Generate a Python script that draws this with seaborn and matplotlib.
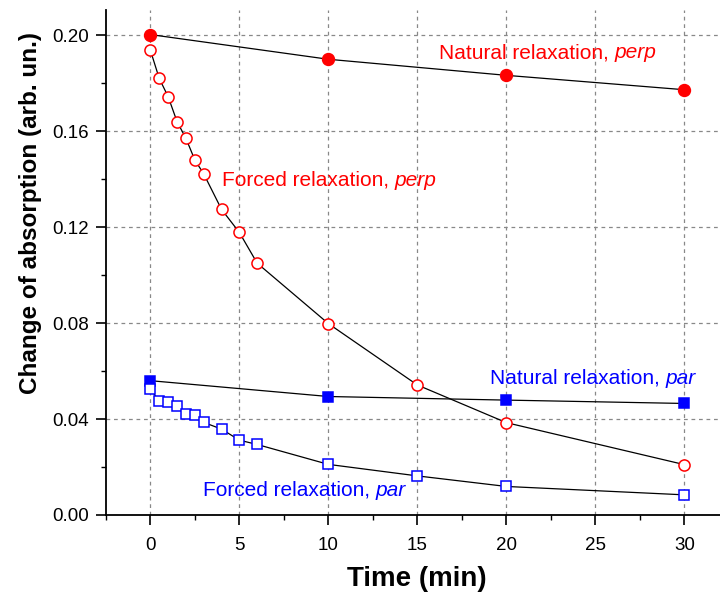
import matplotlib
matplotlib.use("Agg")
import matplotlib.pyplot as plt
import seaborn as sns
import pandas as pd
from matplotlib.ticker import MultipleLocator

sns.set_theme(style="ticks")
plt.rcParams['font.family'] = ['Liberation Sans', 'DejaVu Sans']

# Data
natural_perp_t = [0, 10, 20, 30]
natural_perp_v = [0.2003, 0.1900, 0.1833, 0.1773]

forced_perp_t = [0, 0.5, 1, 1.5, 2, 2.5, 3, 4, 5, 6, 10, 15, 20, 30]
forced_perp_v = [0.1938, 0.1820, 0.1744, 0.1640, 0.1570, 0.1480, 0.1422,
                 0.1274, 0.1178, 0.1050, 0.0798, 0.0542, 0.0385, 0.0210]

natural_par_t = [0, 10, 20, 30]
natural_par_v = [0.0560, 0.0494, 0.0479, 0.0465]

forced_par_t = [0, 0.5, 1, 1.5, 2, 2.5, 3, 4, 5, 6, 10, 15, 20, 30]
forced_par_v = [0.0525, 0.0475, 0.0472, 0.0454, 0.0420, 0.0415, 0.0386,
                0.0358, 0.0312, 0.0294, 0.0211, 0.0163, 0.0119, 0.0084]

labels = ["Natural relaxation, ", "Forced relaxation, ",
          "Natural relaxation, ", "Forced relaxation, "]
label_suffix = ["perp", "perp", "par", "par"]

fig = plt.figure(figsize=(7.2, 5.94), dpi=100)
ax = fig.add_axes([0.147, 0.133, 0.853, 0.85])

series = [
    (natural_perp_t, natural_perp_v, 'o', 'red', 'red', 8.5),
    (forced_perp_t, forced_perp_v, 'o', 'white', 'red', 8),
    (natural_par_t, natural_par_v, 's', 'blue', 'blue', 7.5),
    (forced_par_t, forced_par_v, 's', 'white', 'blue', 7.5),
]
for t, v, m, fc, ec, ms in series:
    df = pd.DataFrame({"t": t, "v": v})
    sns.lineplot(data=df, x="t", y="v", ax=ax, color='black', linewidth=0.9,
                 marker=m, markerfacecolor=fc, markeredgecolor=ec,
                 markersize=ms, markeredgewidth=1.1, zorder=3)

ax.set_xlim(-2.5, 32.0)
ax.set_ylim(0, 0.2105)
ax.xaxis.set_major_locator(MultipleLocator(5))
ax.xaxis.set_minor_locator(MultipleLocator(2.5))
ax.yaxis.set_major_locator(MultipleLocator(0.04))
ax.yaxis.set_minor_locator(MultipleLocator(0.02))
ax.yaxis.set_major_formatter(matplotlib.ticker.FormatStrFormatter('%.2f'))
ax.set_xticks([0, 5, 10, 15, 20, 25, 30])

ax.grid(True, which='major', linestyle=(0, (3, 3)), color='#888888', linewidth=0.9)
ax.set_axisbelow(True)
for s in ['top', 'right']:
    ax.spines[s].set_visible(False)
for s in ['left', 'bottom']:
    ax.spines[s].set_linewidth(1.3)
    ax.spines[s].set_color('black')
ax.tick_params(which='major', direction='out', length=7, width=1.2, labelsize=13.5, colors='black')
ax.tick_params(axis='y', which='major', pad=5)
ax.tick_params(axis='x', which='major', pad=9)
ax.tick_params(which='minor', direction='out', length=3.5, width=1.0, colors='black')

ax.set_xlabel("Time (min)", fontsize=20, fontweight='bold', color='black')
ax.set_ylabel("Change of absorption (arb. un.)", fontsize=17.5, fontweight='bold', color='black')
ax.xaxis.set_label_coords(0.506, -0.102)
ax.yaxis.set_label_coords(-0.104, 0.598)

txt_pos = [(16.2, 0.1928, 'red'), (4.0, 0.1396, 'red'),
           (19.1, 0.0571, 'blue'), (2.93, 0.0104, 'blue')]
for (x, y, c), lab, suf in zip(txt_pos, labels, label_suffix):
    t1 = ax.text(x, y, lab, color=c, fontsize=15, va='center', ha='left')
    fig.canvas.draw()
    bb = t1.get_window_extent()
    x2 = ax.transData.inverted().transform((bb.x1, 0))[0]
    ax.text(x2, y, suf, color=c, fontsize=15, va='center', ha='left', style='italic')

fig.savefig("out.png", dpi=100)
